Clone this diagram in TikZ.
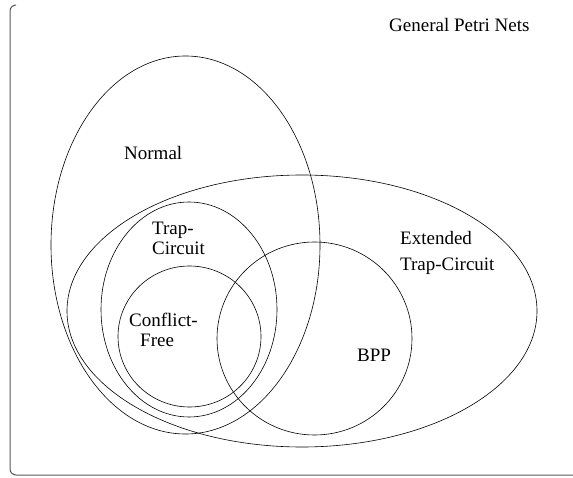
\documentclass[tikz,border=0pt]{standalone}
\usepackage{fontspec}
\setmainfont{Liberation Serif}
\begin{document}
\begin{tikzpicture}[x=1pt,y=-1pt,
  setline/.style={draw=black,line width=0.6pt},
  lbl/.style={inner sep=0pt,anchor=base west,align=left,font=\fontsize{19}{20}\selectfont},
  framestyle/.style={draw=black!65,line width=1pt}]
\useasboundingbox (0,0) rectangle (573,478);
% frame
\coordinate (ftop) at (16,5);
\coordinate (fend) at (573,475);
\draw[framestyle,rounded corners=6pt] (ftop) -- (10,5) -- (10,475) -- (fend);
% sets
\draw[setline] (185.5,245) ellipse [x radius=134.5, y radius=189];
\draw[setline] (302,311) ellipse [x radius=235, y radius=136];
\draw[setline] (189,309.5) ellipse [x radius=88, y radius=107.5];
\draw[setline] (189.5,336.5) ellipse [x radius=71.5, y radius=70.5];
\draw[setline] (314.5,338.5) ellipse [x radius=97.5, y radius=96.5];
% labels
\node[lbl] (gpn) at (389,32) {General Petri Nets};
\node[lbl] (normal) at (124,160) {Normal};
\node[lbl] (trap) at (152,255) {Trap-\\Circuit};
\node[lbl] (cf) at (129,346) {Conflict-\\\hspace*{11pt}Free};
\node[lbl,font=\fontsize{19}{26}\selectfont] (ext) at (400,271) {Extended\\Trap-Circuit};
\node[lbl] (bpp) at (357,362) {BPP};
\end{tikzpicture}
\end{document}
